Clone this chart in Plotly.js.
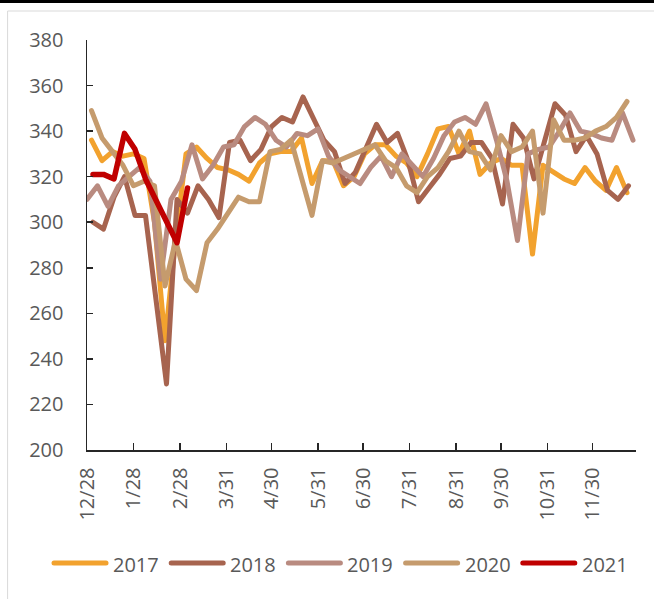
<!DOCTYPE html>
<html>
<head>
<meta charset="utf-8">
<script src="https://cdn.plot.ly/plotly-3.0.1.min.js"></script>
<style>
  html, body { margin: 0; padding: 0; background: #fff; }
  #chart { width: 654px; height: 599px; }
  .scatterlayer path.js-line { stroke-linejoin: round; stroke-linecap: round; }
  .shapelayer path { stroke-linecap: round; }
</style>
</head>
<body>
<div id="chart"></div>
<script>
/* ==========================================
   DATA
========================================== */

const tickLabels = ["12/28","1/28","2/28","3/31","4/30","5/31","6/30","7/31","8/31","9/30","10/31","11/30"];
const tickDays = [0,31,62,93,123,154,184,215,246,276,307,337];

const years = ["2017","2018","2019","2020","2021"];

// first weekly point of each year, in days after 12/28
const startDays = [3,4,0,3,4];

const v2017 = [336,327,331,329,330,328,300,248,292,330,333,328,324,323,321,318,326,330,331,331,
               337,317,327,327,316,320,330,334,334,329,326,320,330,341,342,330,340,321,326,328,
               325,325,286,325,322,319,317,324,318,314,324,313];

const v2018 = [300,297,311,320,303,303,266,229,310,304,316,310,302,335,336,327,332,342,346,344,
               355,346,336,331,317,322,332,343,335,339,327,309,315,321,328,329,335,335,328,308,
               343,337,319,336,352,347,331,338,330,314,310,316];

const v2019 = [310,316,307,316,320,324,318,275,310,318,334,319,325,333,334,342,346,343,336,333,
               339,338,341,329,323,320,317,324,329,320,330,325,320,328,338,344,346,343,352,336,
               318,292,330,332,333,340,348,340,339,337,336,348,336];

const v2020 = [349,337,331,325,316,318,316,272,292,275,270,291,297,304,311,309,309,331,332,336,
               320,303,327,326,328,330,332,334,327,324,316,313,320,324,331,340,331,330,323,338,
               331,333,340,304,345,336,336,337,340,342,346,353];

const v2021 = [321,321,319,339,332,319,null,null,291,315];

const seriesValues = [v2017,v2018,v2019,v2020,v2021];

const colors = ["#F2A22E","#A7644F","#B98B80","#C59B6D","#C00000"];


/* ==========================================
   TRACES
========================================== */

const traces = seriesValues.map((vals,i)=>{

    return{

        x:vals.map((v,k)=>startDays[i] + 7*k),

        y:vals,

        type:"scatter",

        mode:"lines",

        name:years[i],

        connectgaps:true,

        line:{
            color:colors[i],
            width:i===4 ? 5.5 : 5
        },

        hoverinfo:"skip"

    };

});


/* ==========================================
   LEGEND (drawn by hand, one row like Excel)
========================================== */

const plotLeft = 87, plotWidth = 549, plotBottom = 450, plotHeight = 410;

function px2x(px){ return (px - plotLeft)/plotWidth; }
function px2y(py){ return (plotBottom - py)/plotHeight; }

const legendShapes = [];
const legendNotes = [];

years.forEach((yr,i)=>{

    const start = 54 + 117.2*i;

    legendShapes.push({
        type:"line", xref:"paper", yref:"paper",
        x0:px2x(start), x1:px2x(start + 52),
        y0:px2y(563), y1:px2y(563),
        line:{color:colors[i], width:5}
    });

    legendNotes.push({
        xref:"paper", yref:"paper",
        x:px2x(start + 57), y:px2y(564),
        xanchor:"left", yanchor:"middle",
        text:yr,
        showarrow:false,
        font:{family:"Open Sans, Liberation Sans, sans-serif", size:20, color:"#595959"}
    });

});


/* ==========================================
   LAYOUT
========================================== */

const axisFont = {family:"Open Sans, Liberation Sans, sans-serif", size:20, color:"#595959"};

const layout = {

    width:654,
    height:599,

    margin:{l:87, r:18, t:40, b:149},

    paper_bgcolor:"#ffffff",
    plot_bgcolor:"#ffffff",

    showlegend:false,

    xaxis:{
        range:[0,366],
        tickvals:tickDays,
        ticktext:tickLabels,
        tickangle:-90,
        ticks:"inside",
        ticklen:7,
        tickwidth:1.5,
        tickcolor:"#262626",
        showline:true,
        linecolor:"#262626",
        linewidth:1.5,
        showgrid:false,
        zeroline:false,
        tickfont:axisFont,
        ticklabelstandoff:8,
        fixedrange:true
    },

    yaxis:{
        range:[200,380],
        tickvals:[200,220,240,260,280,300,320,340,360,380],
        ticks:"inside",
        ticklen:6,
        tickwidth:1.5,
        tickcolor:"#262626",
        showline:true,
        linecolor:"#262626",
        linewidth:1.5,
        showgrid:false,
        zeroline:false,
        tickfont:axisFont,
        ticklabelstandoff:18,
        fixedrange:true
    },

    annotations:legendNotes,

    shapes:[
        {
            type:"rect", xref:"paper", yref:"paper",
            x0:px2x(8), x1:1.2, y0:-0.5, y1:px2y(11),
            line:{color:"#D9D9D9", width:1},
            fillcolor:"rgba(0,0,0,0)",
            layer:"below"
        },
        {
            type:"rect", xref:"paper", yref:"paper",
            x0:-0.3, x1:1.3, y0:px2y(3), y1:1.2,
            line:{width:0},
            fillcolor:"#000000"
        }
    ].concat(legendShapes)

};

Plotly.newPlot("chart", traces, layout, {displayModeBar:false, staticPlot:true});
</script>
</body>
</html>
